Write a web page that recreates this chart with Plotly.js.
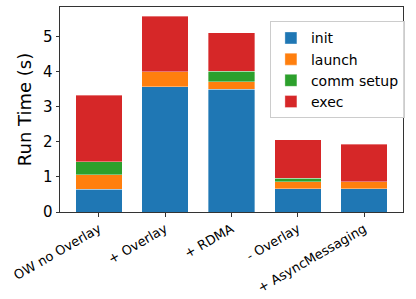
<!DOCTYPE html>
<html><head><meta charset="utf-8">
<script src="https://cdn.plot.ly/plotly-3.0.1.min.js"></script>
<style>html,body{margin:0;padding:0;background:#fff}#c{width:416px;height:299px}</style>
</head><body><div id="c"></div>
<script>
const categories = ["OW no Overlay", "+ Overlay", "+ RDMA", "- Overlay", "+ AsyncMessaging"];
const initVals = [0.65, 3.58, 3.50, 0.66, 0.66];
const launchVals = [0.41, 0.42, 0.22, 0.20, 0.20];
const commVals = [0.37, 0.00, 0.30, 0.11, 0.00];
const execVals = [1.91, 1.59, 1.10, 1.09, 1.08];
const seriesNames = ["init", "launch", "comm setup", "exec"];
const colors = ["#1f77b4", "#ff7f0e", "#2ca02c", "#d62728"];
const yTicks = [0, 1, 2, 3, 4, 5];

const xs = categories.map((c, i) => i);
const traces = [initVals, launchVals, commVals, execVals].map((v, k) => ({
  type: "bar", x: xs, y: v, name: seriesNames[k], width: 0.7,
  marker: {color: colors[k], line: {width: 0.6, color: "rgba(255,255,255,0.6)"}},
  hoverinfo: "none"
}));

const font = "DejaVu Sans, sans-serif";
const layout = {
  width: 416, height: 299,
  margin: {l: 60, r: 13, t: 7, b: 87},
  barmode: "stack",
  paper_bgcolor: "#fff", plot_bgcolor: "#fff",
  font: {family: font, color: "#000", size: 14},
  showlegend: true,
  legend: {x: 0.612, y: 0.93, xanchor: "left", yanchor: "top",
    bgcolor: "rgba(255,255,255,0.8)", bordercolor: "#ccc", borderwidth: 1,
    font: {family: font, size: 14, color: "#000"}, traceorder: "normal", tracegroupgap: 0},
  xaxis: {range: [-0.585, 4.585], tickvals: xs, ticktext: categories, tickangle: -30,
    showgrid: false, zeroline: false, showline: true, mirror: true, linecolor: "#333", linewidth: 1,
    ticks: "outside", ticklen: 3.5, tickcolor: "#333", tickfont: {family: font, size: 13}},
  yaxis: {range: [0, 5.855], tickvals: yTicks, showgrid: false, zeroline: false,
    showline: true, mirror: true, linecolor: "#333", linewidth: 1,
    ticks: "outside", ticklen: 3.5, tickcolor: "#333", tickfont: {family: font, size: 15},
    title: {text: "Run Time (s)", font: {family: font, size: 18}, standoff: 6}}
};
Plotly.newPlot("c", traces, layout, {staticPlot: true, displayModeBar: false});
</script></body></html>
